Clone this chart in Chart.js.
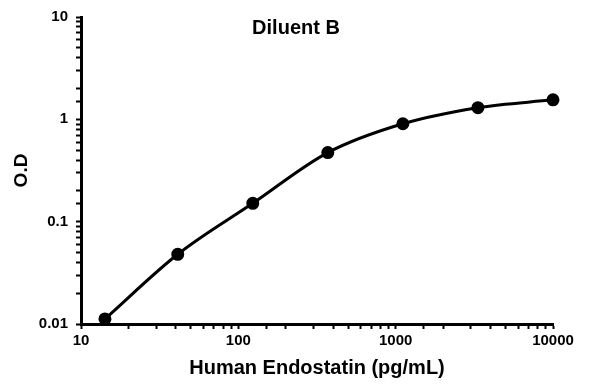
<!DOCTYPE html>
<html>
<head>
<meta charset="utf-8">
<script src="https://cdn.jsdelivr.net/npm/chart.js@4/dist/chart.umd.min.js"></script>
<style>
  html, body { margin: 0; padding: 0; background: #fff; }
  #wrap { width: 596px; height: 384px; }
</style>
</head>
<body>
<div id="wrap"><canvas id="curve" width="596" height="384"></canvas></div>
<script>
// Standard curve data (3-fold dilutions)
const concentrations = [14.2, 41.2, 123.5, 370.4, 1111, 3333, 10000];
const odValues = [0.0112, 0.048, 0.151, 0.473, 0.905, 1.30, 1.55];
const xTickLabels = ['10', '100', '1000', '10000'];
const yTickLabels = ['0.01', '0.1', '1', '10'];

const chartTitle = 'Diluent B';
const xTitle = 'Human Endostatin (pg/mL)';
const yTitle = 'O.D';

const points = concentrations.map((c, i) => ({ x: c, y: odValues[i] }));

// keep only the decade labels on the log axes
function decadeLabel(labels) {
    return function (value) {
        const s = String(Number(value.toPrecision(6)));
        return labels.includes(s) ? s : '';
    };
}

// chart title drawn inside plot area
const titlePlugin = {
    id: 'innerTitle',
    afterDraw(chart) {
        const c = chart.ctx;
        c.save();
        c.font = 'bold 20px "Liberation Sans", Arial, sans-serif';
        c.fillStyle = '#000';
        c.textAlign = 'center';
        c.textBaseline = 'middle';
        c.fillText(chartTitle, 296, 28);
        c.restore();
    }
};

const ctx = document.getElementById('curve').getContext('2d');

new Chart(ctx, {
    type: 'line',
    data: {
        datasets: [{
            data: points,
            borderColor: '#000',
            backgroundColor: '#000',
            borderWidth: 3,
            cubicInterpolationMode: 'monotone',
            pointRadius: 5,
            pointBackgroundColor: '#000',
            pointBorderColor: '#000',
            clip: false,
            fill: false
        }]
    },
    options: {
        responsive: false,
        animation: false,
        layout: {
            padding: { top: 16, right: 43, left: 0, bottom: 0 }
        },
        plugins: {
            legend: { display: false },
            tooltip: { enabled: false }
        },
        scales: {
            x: {
                type: 'logarithmic',
                min: 10,
                max: 10000,
                afterFit(scale) { scale.height = 60; },
                border: { display: true, color: '#000', width: 3 },
                grid: {
                    drawOnChartArea: false,
                    drawTicks: true,
                    tickLength: 5,
                    tickWidth: 2,
                    tickColor: '#000'
                },
                ticks: {
                    autoSkip: false,
                    maxRotation: 0,
                    color: '#000',
                    padding: 3,
                    font: { family: '"Liberation Sans", Arial, sans-serif', size: 15, weight: 'bold' },
                    callback: decadeLabel(xTickLabels)
                },
                title: {
                    display: true,
                    text: xTitle,
                    color: '#000',
                    font: { family: '"Liberation Sans", Arial, sans-serif', size: 20, weight: 'bold' },
                    padding: { top: 4 }
                }
            },
            y: {
                type: 'logarithmic',
                min: 0.01,
                max: 10,
                afterFit(scale) { scale.width = 81; },
                border: { display: true, color: '#000', width: 3 },
                grid: {
                    drawOnChartArea: false,
                    drawTicks: true,
                    tickLength: 5,
                    tickWidth: 2,
                    tickColor: '#000'
                },
                ticks: {
                    autoSkip: false,
                    color: '#000',
                    padding: 8,
                    font: { family: '"Liberation Sans", Arial, sans-serif', size: 15, weight: 'bold' },
                    callback: decadeLabel(yTickLabels)
                },
                title: {
                    display: true,
                    text: yTitle,
                    color: '#000',
                    font: { family: '"Liberation Sans", Arial, sans-serif', size: 19, weight: 'bold' },
                    padding: { top: 10 }
                }
            }
        }
    },
    plugins: [titlePlugin]
});
</script>
</body>
</html>
